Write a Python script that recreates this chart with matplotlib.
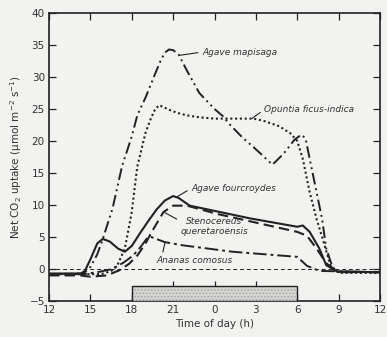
import numpy as np
import matplotlib.pyplot as plt

# time of day in hours, 12 = noon, 36 = noon of the next day
mapisaga_t = [12, 14.5, 15.0, 15.5, 15.9, 16.6, 17.3, 18.0, 18.4, 19.0, 19.6, 20.1,
              20.4, 20.7, 21.0, 21.4, 22.0, 22.9, 24.0, 24.6, 25.1, 26.0, 27.0, 28.2,
              29.0, 29.8, 30.3, 30.6, 30.9, 31.4, 31.8, 32.1, 32.6, 33.0, 36]
mapisaga_y = [-0.8, -0.7, 0.3, 2.3, 4.7, 9.4, 16.1, 20.7, 24.0, 26.8, 30.0, 32.6,
              33.8, 34.3, 34.2, 33.5, 31.0, 27.5, 25.0, 23.9, 22.6, 20.6, 18.7, 16.3,
              18.0, 20.2, 21.0, 20.4, 17.2, 12.0, 7.8, 3.2, 0.0, -0.5, -0.5]

opuntia_t = [12, 15.5, 16.0, 16.6, 17.0, 17.5, 18.0, 18.4, 19.0, 19.4, 19.7, 20.0,
             20.3, 20.8, 21.3, 22.0, 22.9, 24.0, 25.3, 26.8, 27.5, 28.7, 29.5, 30.0,
             30.4, 30.9, 31.4, 31.9, 32.4, 33.0, 36]
opuntia_y = [-0.8, -0.8, -0.7, -0.2, 0.8, 3.2, 8.9, 16.0, 21.3, 23.6, 25.0, 25.6,
             25.3, 24.8, 24.4, 24.0, 23.7, 23.5, 23.5, 23.5, 23.2, 22.3, 21.2, 20.0,
             17.2, 12.0, 7.8, 4.3, 0.6, -0.6, -0.6]

fourcroydes_t = [12, 14.3, 14.6, 15.0, 15.5, 15.9, 16.4, 17.0, 17.5, 18.0, 18.6, 19.2,
                 19.8, 20.4, 21.0, 21.4, 22.2, 26.6, 30.0, 30.4, 30.9, 31.6, 32.1, 32.9, 36]
fourcroydes_y = [-0.7, -0.7, -0.3, 1.5, 4.0, 4.7, 4.3, 3.2, 2.7, 3.6, 5.6, 7.5,
                 9.3, 10.7, 11.4, 11.1, 9.9, 7.9, 6.6, 6.8, 5.8, 3.2, 0.6, -0.4, -0.5]

stenocereus_t = [12, 14.3, 14.6, 15.0, 16.2, 17.1, 17.8, 18.4, 19.0, 19.5, 20.3, 21.0,
                 22.0, 24.2, 30.0, 30.7, 31.4, 32.1, 32.9, 36]
stenocereus_y = [-1.0, -1.0, -1.1, -1.2, -1.0, -0.2, 0.8, 2.1, 4.0, 6.0, 8.9, 9.9,
                 9.9, 8.6, 5.8, 5.2, 3.2, 0.9, -0.4, -0.5]

ananas_t = [12, 14.5, 15.5, 16.6, 17.4, 18.1, 18.7, 19.1, 19.4, 20.4, 21.7, 25.3,
            30.0, 30.7, 31.6, 36]
ananas_y = [-0.8, -0.8, -0.5, 0.0, 1.0, 2.1, 3.6, 4.8, 5.0, 4.2, 3.7, 2.7,
            1.9, 0.5, -0.3, -0.5]

xtick_pos = [12, 15, 18, 21, 24, 27, 30, 33, 36]
xtick_lab = ['12', '15', '18', '21', '0', '3', '6', '9', '12']
dark_period = (18, 30)

ink = '#222222'
bg = '#f2f2f0'
plt.rcParams['hatch.linewidth'] = 0.6

fig = plt.figure(figsize=(3.87, 3.37), dpi=100, facecolor=bg)
ax = fig.add_axes([0.1266, 0.1068, 0.8554, 0.8546], facecolor=bg)

ax.axhline(0, color=ink, lw=0.7, ls=(0, (4, 3)), zorder=1)

ax.plot(mapisaga_t, mapisaga_y, color=ink, lw=1.4, ls=(0, (6, 2, 1, 2, 1, 2)))
ax.plot(opuntia_t, opuntia_y, color=ink, lw=1.5, ls=(0, (1, 1.3)))
ax.plot(fourcroydes_t, fourcroydes_y, color=ink, lw=1.5)
ax.plot(stenocereus_t, stenocereus_y, color=ink, lw=1.5, ls=(0, (5, 2.5)))
ax.plot(ananas_t, ananas_y, color=ink, lw=1.4, ls=(0, (7, 2, 1.5, 2)))

# dark period bar: textured fill, then the black outline
w = dark_period[1] - dark_period[0]
ax.add_patch(plt.Rectangle((dark_period[0], -5), w, 2.3, facecolor='#d4d4d2',
                           edgecolor='#a0a0a0', lw=0, hatch='.....', zorder=3))
ax.add_patch(plt.Rectangle((dark_period[0], -5), w, 2.3, facecolor='none',
                           edgecolor=ink, lw=1.0, zorder=3.5))
ax.vlines([21, 24, 27], -2.7, -1.9, color=ink, lw=0.9, zorder=4)

ax.set_xlim(12, 36)
ax.set_ylim(-5, 40)
ax.set_xticks(xtick_pos)
ax.set_xticklabels(xtick_lab)
ax.set_yticks(np.arange(-5, 41, 5))
ax.tick_params(direction='in', length=5, width=0.9, top=True, right=True,
               labelsize=7.5, labelcolor='#333333', color=ink, pad=3)
for s in ax.spines.values():
    s.set_linewidth(1.2)
    s.set_color(ink)

ax.set_xlabel('Time of day (h)', fontsize=7.5, color='#333333', labelpad=3)
ax.set_ylabel('Net CO$_2$ uptake (\u03bcmol m$^{-2}$ s$^{-1}$)', fontsize=7.5,
              color='#333333', labelpad=4)

def label(txt, xy, xytext, ha='left', rel=(0, 0.5)):
    ax.annotate(txt, xy=xy, xytext=xytext, ha=ha, va='center', fontsize=6.5,
                style='italic', color='#333333',
                arrowprops=dict(arrowstyle='-', color=ink, lw=0.8, relpos=rel,
                                shrinkA=1, shrinkB=0))

label('Agave mapisaga', (21.5, 33.4), (23.1, 33.9))
label('Opuntia ficus-indica', (26.7, 23.5), (27.6, 24.9))
label('Agave fourcroydes', (21.3, 11.3), (22.3, 12.6))
label('Stenocereus\nqueretaroensis', (20.4, 8.8), (24.0, 6.6), ha='center', rel=(0.02, 0.75))
label('Ananas comosus', (20.4, 4.0), (19.8, 1.3), rel=(0.07, 1.0))

fig.savefig('out.png', dpi=100, facecolor=bg)
